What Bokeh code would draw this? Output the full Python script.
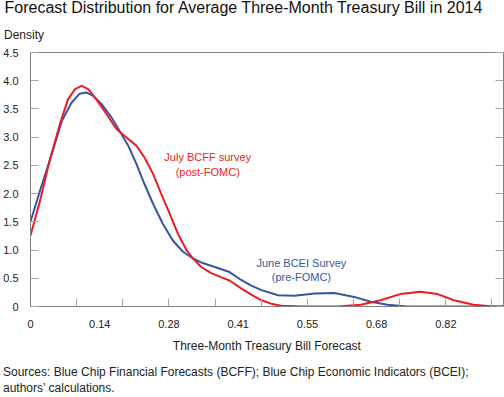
from bokeh.plotting import figure
from bokeh.models import FixedTicker, LinearAxis, Label, Range1d, Title
from bokeh.embed import file_html
from bokeh.resources import INLINE

# ---------------- data ----------------
title_text = "Forecast Distribution for Average Three-Month Treasury Bill in 2014"
y_axis_title = "Density"
x_axis_title = "Three-Month Treasury Bill Forecast"
source_lines = [
    "Sources: Blue Chip Financial Forecasts (BCFF); Blue Chip Economic Indicators (BCEI);",
    "authors\u2019 calculations.",
]

# July BCFF survey (post-FOMC)
bcff_x = [0, 0.019, 0.038, 0.058, 0.074, 0.088, 0.101, 0.114, 0.130, 0.150,
          0.170, 0.189, 0.209, 0.225, 0.242, 0.258, 0.275, 0.291, 0.308, 0.321,
          0.337, 0.357, 0.376, 0.393, 0.416, 0.436, 0.456, 0.475, 0.495, 0.540,
          0.607, 0.652, 0.691, 0.730, 0.770, 0.804, 0.836, 0.875, 0.914, 0.934]
bcff_y = [1.26, 1.88, 2.59, 3.23, 3.67, 3.85, 3.91, 3.85, 3.67, 3.41,
          3.14, 3.00, 2.85, 2.64, 2.35, 2.00, 1.64, 1.29, 1.00, 0.85,
          0.70, 0.59, 0.52, 0.46, 0.32, 0.21, 0.11, 0.05, 0.015, 0.0,
          0.0, 0.03, 0.11, 0.22, 0.26, 0.22, 0.11, 0.03, 0.0, 0.0]

# June BCEI survey (pre-FOMC)
bcei_x = [0, 0.019, 0.042, 0.062, 0.081, 0.097, 0.111, 0.124, 0.140, 0.160,
          0.176, 0.193, 0.209, 0.225, 0.242, 0.261, 0.281, 0.301, 0.321, 0.340,
          0.367, 0.393, 0.416, 0.436, 0.456, 0.489, 0.521, 0.561, 0.600, 0.639,
          0.672, 0.705, 0.744, 0.934]
bcei_y = [1.50, 2.06, 2.70, 3.29, 3.61, 3.77, 3.79, 3.73, 3.59, 3.35,
          3.11, 2.85, 2.53, 2.17, 1.82, 1.47, 1.17, 0.97, 0.85, 0.77,
          0.69, 0.61, 0.47, 0.37, 0.29, 0.20, 0.19, 0.23, 0.24, 0.17,
          0.085, 0.03, 0.0, 0.0]

x_tick_labels = ["0", "0.14", "0.28", "0.41", "0.55", "0.68", "0.82"]
x_label_step = 0.1367
x_mark_step = 0.0911
x_max = 0.934
y_tick_values = [0, 0.5, 1.0, 1.5, 2.0, 2.5, 3.0, 3.5, 4.0, 4.5]
y_tick_labels = ["0", "0.5", "1.0", "1.5", "2.0", "2.5", "3.0", "3.5", "4.0", "4.5"]

RED = "#ED1C24"
BLUE = "#3A54A4"
FONT = "Liberation Sans"
TXT = "#222222"

# ---------------- layout ----------------
PAGE_TOP = -7                      # canvas starts 7px above the window
W, H = 504, 397 - PAGE_TOP
BL, BR, BT, BB = 28, 1, 52 - PAGE_TOP, 91
FW, FH = W - BL - BR, H - BT - BB

p = figure(width=W, height=H, output_backend="svg", toolbar_location=None,
           title=None,
           x_range=Range1d(0, x_max), y_range=Range1d(0, 4.5),
           min_border_left=BL, min_border_right=BR, min_border_top=BT,
           min_border_bottom=BB, background_fill_color="white",
           border_fill_color="white")
p.styles = {"position": "absolute", "left": "0px", "top": f"{PAGE_TOP}px"}
p.grid.visible = False
p.outline_line_color = "#7f7f7f"
p.outline_line_width = 1


def dx(px):
    return (px - BL) * x_max / FW


def dy(py):
    return (BT + FH + PAGE_TOP - py) * 4.5 / FH


# x axis: labels at label positions, tick marks (minor) at mark positions
label_pos = [i * x_label_step for i in range(len(x_tick_labels))]
mark_pos = [k * x_mark_step for k in range(1, 11)]
xa = p.xaxis[0]
xa.ticker = FixedTicker(ticks=label_pos, minor_ticks=mark_pos)
xa.major_label_overrides = {v: t for v, t in zip(label_pos, x_tick_labels)}
xa.major_tick_line_color = None
xa.minor_tick_line_color = "#a6a6a6"
xa.minor_tick_in = 8
xa.minor_tick_out = 0
xa.axis_line_color = "#7f7f7f"
xa.major_label_text_font = FONT
xa.major_label_text_font_size = "11px"
xa.major_label_text_color = TXT
xa.major_label_standoff = 7
xa.axis_label = x_axis_title
xa.axis_label_text_font = FONT
xa.axis_label_text_font_size = "12px"
xa.axis_label_text_font_style = "normal"
xa.axis_label_text_color = TXT
xa.axis_label_standoff = 8

ya = p.yaxis[0]
ya.ticker = FixedTicker(ticks=y_tick_values, minor_ticks=[])
ya.major_label_overrides = {v: t for v, t in zip(y_tick_values, y_tick_labels)}
ya.major_tick_line_color = "#a6a6a6"
ya.major_tick_in = 8
ya.major_tick_out = 0
ya.minor_tick_line_color = None
ya.axis_line_color = "#7f7f7f"
ya.major_label_text_font = FONT
ya.major_label_text_font_size = "11px"
ya.major_label_text_color = TXT
ya.major_label_standoff = 12

ra = LinearAxis(ticker=FixedTicker(ticks=y_tick_values, minor_ticks=[]),
                major_tick_in=8, major_tick_out=0,
                major_tick_line_color="#a6a6a6", minor_tick_line_color=None,
                axis_line_color="#7f7f7f", major_label_text_font_size="0px",
                major_label_standoff=0,
                major_label_overrides={v: "" for v in y_tick_values})
p.add_layout(ra, "right")

# ---------------- titles (stacked outward from the frame) ----------------
p.add_layout(Title(text=y_axis_title, text_font=FONT, text_font_size="12px",
                   text_font_style="normal", text_color=TXT, align="left",
                   offset=1.5 - BL, standoff=21), "above")
p.add_layout(Title(text=title_text, text_font=FONT, text_font_size="16px",
                   text_font_style="normal", text_color="#111111", align="left",
                   offset=2 - BL, standoff=0), "above")

p.add_layout(Title(text=" ", text_font=FONT, text_font_size="1px",
                   standoff=4), "below")
p.add_layout(Title(text=source_lines[0], text_font=FONT, text_font_size="12px",
                   text_font_style="normal", text_color=TXT, align="left",
                   offset=0.5 - BL, standoff=0), "below")
p.add_layout(Title(text=source_lines[1], text_font=FONT, text_font_size="12px",
                   text_font_style="normal", text_color=TXT, align="left",
                   offset=0.5 - BL, standoff=0), "below")

# ---------------- curves ----------------
p.line(bcei_x, bcei_y, line_color=BLUE, line_width=2)
p.line(bcff_x, bcff_y, line_color=RED, line_width=2)


# ---------------- in-plot annotations ----------------
def add_text(px, py, text, color):
    p.add_layout(Label(x=dx(px), y=dy(py), text=text, text_font=FONT,
                       text_font_size="11px", text_color=color,
                       text_align="center", text_baseline="alphabetic"))


add_text(206, 156.5, "July BCFF survey", RED)
add_text(206, 171, "(post-FOMC)", RED)
add_text(300, 262, "June BCEI Survey", BLUE)
add_text(300, 276, "(pre-FOMC)", BLUE)

open("out.html", "w").write(file_html(p, INLINE))
